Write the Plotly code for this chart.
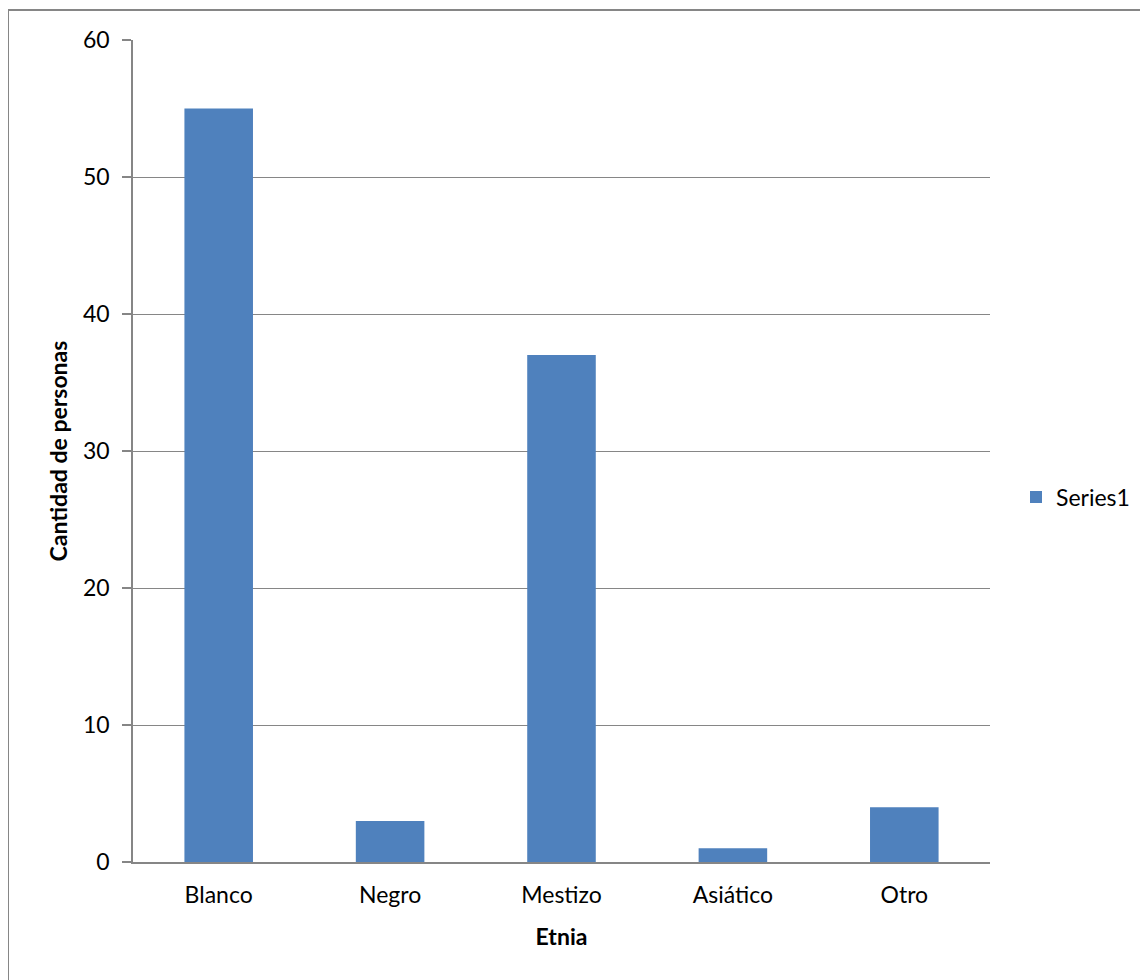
import plotly.graph_objects as go

categories = ["Blanco", "Negro", "Mestizo", "Asiático", "Otro"]
values = [55, 3, 37, 1, 4]
series_name = "Series1"
y_ticks = [0, 10, 20, 30, 40, 50, 60]

# page has an 8px body margin; figure coordinates are page coordinates minus 8
W, H = 1140, 972
L, T = 125, 32
R = W - 982
B = H - 854
pw = W - L - R
ph = H - T - B

fig = go.Figure()
fig.add_trace(go.Bar(x=categories, y=values, name=series_name,
                     marker=dict(color="#4f81bd", line=dict(width=0)),
                     width=0.4, showlegend=True))

font = "Lato, 'Open Sans', sans-serif"
fs = 23
fig.update_layout(
    width=W, height=H,
    margin=dict(l=L, r=R, t=T, b=B, autoexpand=False),
    paper_bgcolor="white", plot_bgcolor="white",
    font=dict(family=font, size=fs, color="black"),
    showlegend=True,
    legend=dict(x=(1008 - L) / pw, y=1 - (489 - T) / ph, xanchor="left", yanchor="middle",
                font=dict(size=fs), itemwidth=30, bgcolor="rgba(0,0,0,0)"),
    xaxis=dict(showline=True, linecolor="#868686", linewidth=1.5, ticks="",
               ticklabelstandoff=12,
               title=dict(text="<b>Etnia</b>", font=dict(size=fs), standoff=22),
               tickfont=dict(size=fs), fixedrange=True),
    yaxis=dict(range=[0, 60], tickvals=y_ticks, showline=True, linecolor="#868686", linewidth=1.5,
               ticks="outside", ticklen=9, tickcolor="#868686", tickwidth=1.5,
               ticklabelstandoff=8,
               showgrid=True, gridcolor="#868686", gridwidth=1,
               zeroline=False,
               title=dict(text="<b>Cantidad de personas</b>", font=dict(size=fs), standoff=9),
               tickfont=dict(size=fs)),
    shapes=[dict(type="rect", xref="paper", yref="paper",
                 x0=(0 - L) / pw, x1=(W + 5 - L) / pw,
                 y0=1 - (H + 5 - T) / ph, y1=1 - (2 - T) / ph,
                 line=dict(color="#868686", width=2), fillcolor="rgba(0,0,0,0)", layer="below")],
)
fig.write_html("out.html")
